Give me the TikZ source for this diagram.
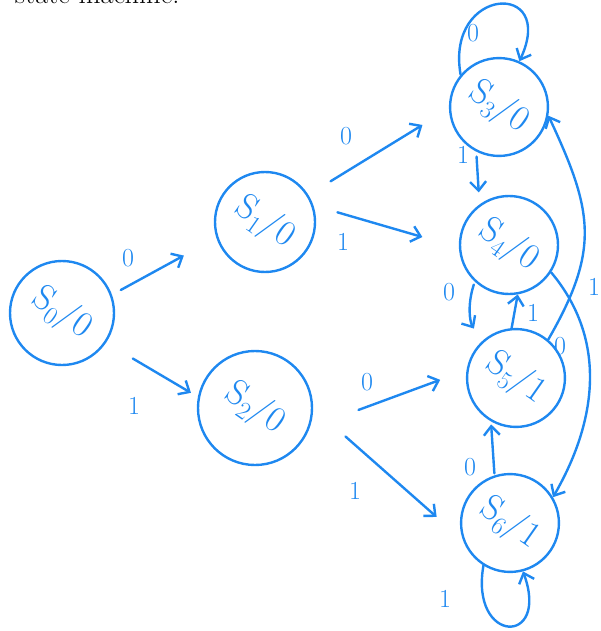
\documentclass[tikz,border=0pt]{standalone}
\usepackage{graphicx}
\usetikzlibrary{arrows.meta}
\definecolor{pluma}{RGB}{30,136,240}
\tikzset{
  estado/.style={draw=pluma, circle, line width=2.4pt, minimum size=100pt, inner sep=0pt,
    text=pluma, font=\fontsize{36}{36}\selectfont},
  trans/.style={draw=pluma, line width=2.4pt, line cap=round, -{Straight Barb[length=9pt,width=16pt]}},
  etiq/.style={text=pluma, inner sep=0pt, font=\fontsize{26}{26}\selectfont},
}
\newcommand{\est}[2]{\rotatebox{-35}{S\textsubscript{#1}/#2}}

\begin{document}
\begin{tikzpicture}[x=1pt,y=1pt]
    \clip (0,0) rectangle (600,-631);
    \node[anchor=base east, font=\fontsize{28.5}{30}\selectfont] (titulo) at (183,-3.5) {state machine.};

    % Estados
    \node[estado, minimum size=104pt] (S0) at (62,-313) {\est{0}{0}};
    \node[estado] (S1) at (265,-222) {\est{1}{0}};
    \node[estado, minimum size=114pt] (S2) at (255,-408) {\est{2}{0}};
    \node[estado, minimum size=94pt] (S3) at (499,-107) {\est{3}{0}};
    \node[estado, minimum size=98pt] (S4) at (509,-245) {\est{4}{0}};
    \node[estado, minimum size=96pt] (S5) at (516,-378) {\est{5}{1}};
    \node[estado, minimum size=92pt] (S6) at (510,-523) {\est{6}{1}};

    % Transiciones desde S0, S1, S2
    \draw[trans, shorten <=10pt, shorten >=37pt] (S0.20) -- (S1.198);
    \draw[trans, shorten <=31pt, shorten >=8pt] (S0.-34) -- (S2.169);
    \draw[trans, shorten <=26pt, shorten >=31pt] (S1.32) -- (S3.182);
    \draw[trans, shorten <=25pt, shorten >=38pt] (S1.19) -- (S4.183);
    \draw[trans, shorten <=52pt, shorten >=28pt] (S2.-20) -- (S5.171);
    \draw[trans, shorten <=43pt, shorten >=35pt] (S2.0) -- (S6.200);

    % Columna derecha
    \draw[trans] (S3.140) .. controls +(100:90) and +(65:90) .. (S3.66);
    \draw[trans, shorten <=5pt, shorten >=12pt] (S3.-117) -- (S4.126);
    \draw[trans, shorten <=3pt, shorten >=15pt] (S4.-133) to[bend right=25] (S5.133);
    \draw[trans] (S5.95) -- (S4.-80);
    \draw[trans] (S5.50) to[out=60, in=-65, looseness=1.2] (S3.-10);
    \draw[trans] (S4.-33) to[out=-50, in=60] (S6.31);
    \draw[trans, shorten <=2pt, shorten >=3pt] (S6.108) -- (S5.-120);
    \draw[trans] (S6.-122) .. controls +(-100:80) and +(-70:80) .. (S6.-75);

    % Etiquetas
    \node[etiq] (e01) at (128,-258) {0};
    \node[etiq] (e02) at (134,-406) {1};
    \node[etiq] (e13) at (346,-136) {0};
    \node[etiq] (e14) at (343,-242) {1};
    \node[etiq] (e25) at (367,-382) {0};
    \node[etiq] (e26) at (355,-491) {1};
    \node[etiq] (e33) at (473,-33) {0};
    \node[etiq] (e34) at (463,-155) {1};
    \node[etiq] (e45) at (449,-292) {0};
    \node[etiq] (e54) at (533,-313) {1};
    \node[etiq] (e53) at (560,-346) {0};
    \node[etiq] (e46) at (594,-287) {1};
    \node[etiq] (e65) at (470,-467) {0};
    \node[etiq] (e66) at (445,-599) {1};
\end{tikzpicture}
\end{document}
